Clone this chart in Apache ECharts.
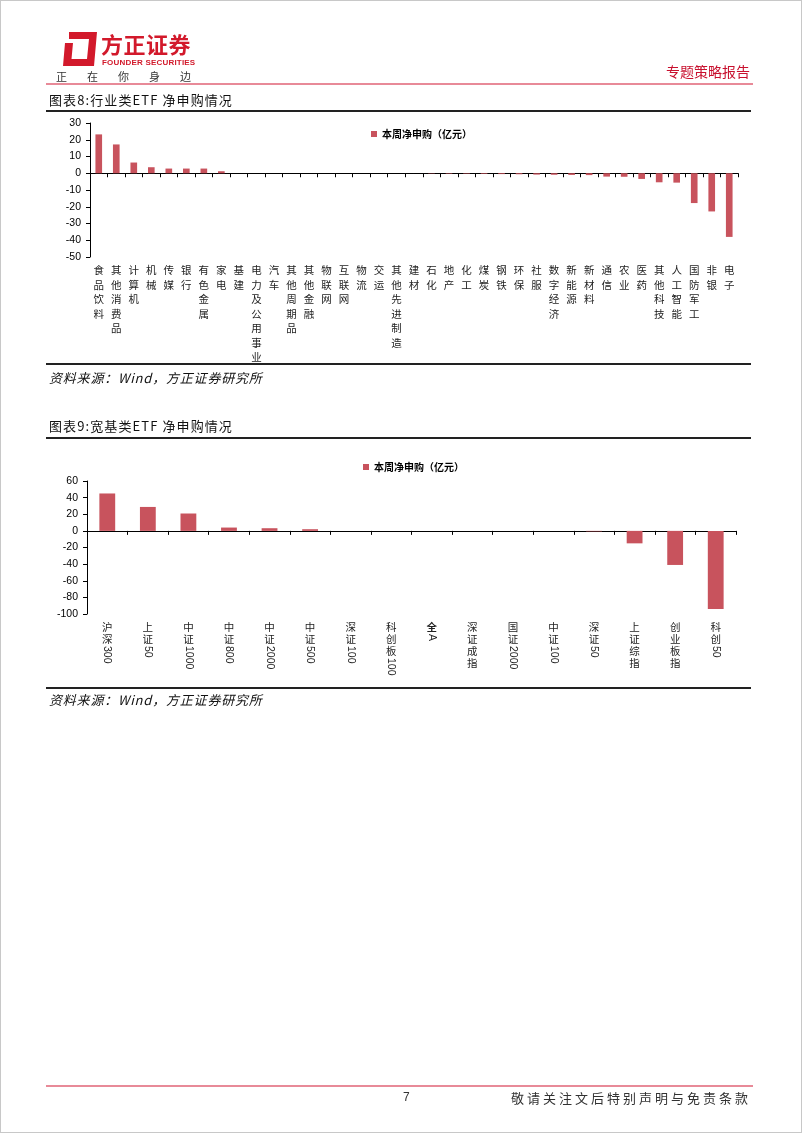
<!DOCTYPE html>
<html>
<head>
<meta charset="utf-8">
<script src="https://cdn.jsdelivr.net/npm/echarts@6/dist/echarts.min.js"></script>
<style>
  html, body { margin: 0; padding: 0; background: #fff; }
  #page { position: relative; width: 802px; height: 1133px; overflow: hidden; background: #fff; box-sizing: border-box; border: 1px solid #c8c8c8; }
  #chart { position: absolute; left: 0; top: 0; width: 802px; height: 1133px; z-index: 1; }
  .t { position: absolute; z-index: 2; white-space: nowrap; font-family: "Noto Sans CJK SC", sans-serif; line-height: 1; }
  .ln { position: absolute; z-index: 2; }
</style>
</head>
<body>
<div id="page">
  <div id="chart"></div>
  <svg class="ln" style="left:60px;top:30px" width="38" height="36" viewBox="0 0 38 36">
    <path d="M8 1 L36 1 L33 35 L2 35 L4 12 L12 12 L10.5 28 L26 28 L28 8 L8 8 Z" fill="#D2192B"/>
  </svg>
  <div class="t" style="left:100px;top:31px;font-size:22px;font-weight:bold;color:#D2192B;letter-spacing:0.5px">方正证券</div>
  <div class="t" style="left:101px;top:58px;font-size:8px;font-weight:bold;color:#D2192B;font-family:'Liberation Sans',Arial,sans-serif;letter-spacing:0.2px">FOUNDER SECURITIES</div>
  <div class="t" style="left:55px;top:70px;font-size:11px;color:#333;letter-spacing:20px">正在你身边</div>
  <div class="t" style="left:665px;top:63px;font-size:14px;color:#C8102E">专题策略报告</div>
  <div class="ln" style="left:45px;top:82px;width:707px;height:1.5px;background:#E88A98"></div>

  <div class="t" style="left:48px;top:92px;font-size:13px;color:#111;letter-spacing:1.1px">图表8:行业类ETF 净申购情况</div>
  <div class="ln" style="left:45px;top:109px;width:705px;height:2px;background:#222"></div>
  <div class="ln" style="left:45px;top:362px;width:705px;height:2px;background:#222"></div>
  <div class="t" style="left:48px;top:370px;font-size:13px;color:#111;font-style:italic;letter-spacing:0.8px">资料来源：Wind，方正证券研究所</div>

  <div class="t" style="left:48px;top:418px;font-size:13px;color:#111;letter-spacing:1.1px">图表9:宽基类ETF 净申购情况</div>
  <div class="ln" style="left:45px;top:436px;width:705px;height:2px;background:#222"></div>
  <div class="ln" style="left:45px;top:686px;width:705px;height:2px;background:#222"></div>
  <div class="t" style="left:48px;top:692px;font-size:13px;color:#111;font-style:italic;letter-spacing:0.8px">资料来源：Wind，方正证券研究所</div>

  <div class="ln" style="left:45px;top:1084px;width:707px;height:1.5px;background:#E88A98"></div>
  <div class="t" style="left:402px;top:1090px;font-size:12px;color:#333;font-family:'Liberation Sans',Arial,sans-serif">7</div>
  <div class="t" style="left:510px;top:1090px;font-size:13px;color:#333;letter-spacing:3px">敬请关注文后特别声明与免责条款</div>
</div>
<script>
// ---------- data ----------
const categories1 = ['食品饮料','其他消费品','计算机','机械','传媒','银行','有色金属','家电','基建','电力及公用事业','汽车','其他周期品','其他金融','物联网','互联网','物流','交运','其他先进制造','建材','石化','地产','化工','煤炭','钢铁','环保','社服','数字经济','新能源','新材料','通信','农业','医药','其他科技','人工智能','国防军工','非银','电子'];
const values1 = [23.2, 17.2, 6.4, 3.6, 2.8, 2.8, 2.8, 1.2, 0, 0, 0, 0, 0, 0, 0, 0, 0, 0, 0, -0.2, -0.3, -0.3, -0.4, -0.5, -0.6, -0.8, -0.9, -1.0, -1.1, -2.0, -2.1, -3.4, -5.4, -5.6, -17.8, -22.8, -38.0];
const yTicks1 = { min: -50, max: 30, interval: 10 };

const categories2 = ['沪深300','上证50','中证1000','中证800','中证2000','中证500','深证100','科创板100','全A','深证成指','国证2000','中证100','深证50','上证综指','创业板指','科创50'];
const values2 = [45, 28.8, 20.9, 4.0, 3.2, 2.0, 0, 0, 0, 0, 0, 0, -0.6, -15, -41, -94];
const yTicks2 = { min: -100, max: 60, interval: 20 };

const seriesName = '本周净申购（亿元）';

// ---------- styles ----------
const BAR = '#C8535D';
const axisBlack = { lineStyle: { color: '#000', width: 1 } };
const yLabel = { fontSize: 10.5, color: '#000', fontFamily: 'Liberation Sans', margin: 9 };

const chart = echarts.init(document.getElementById('chart'), null, { renderer: 'canvas' });

function labelRenderer(params, api) {
  const idx = api.value(0);
  const p = api.coord([idx, yTicks2.min]);
  const label = categories2[idx];
  const parts = label.match(/[0-9A-Za-z]+|[^0-9A-Za-z]/g) || [];
  let y = p[1] + 8;
  const children = [];
  parts.forEach(s => {
    if (/^[0-9A-Za-z]+$/.test(s)) {
      children.push({
        type: 'text', x: p[0], y: y, rotation: -Math.PI / 2,
        style: { text: s, align: 'left', verticalAlign: 'middle', font: '10.5px "Liberation Sans"', fill: '#222' }
      });
      y += s.length * 5.9 + 1;
    } else {
      children.push({
        type: 'text', x: p[0], y: y,
        style: { text: s, align: 'center', verticalAlign: 'top', font: (label === '全A' ? 'bold ' : '') + '10.5px "Noto Sans CJK SC"', fill: '#222' }
      });
      y += 12;
    }
  });
  return { type: 'group', children };
}

chart.setOption({
  animation: false,
  legend: [
    { data: [seriesName], left: 365, top: 123, icon: 'rect', itemWidth: 6, itemHeight: 6, itemGap: 4,
      textStyle: { fontSize: 10, fontWeight: 'bold', color: '#000', fontFamily: 'Noto Sans CJK SC' }, selectedMode: false },
    { data: [seriesName], left: 357, top: 456, icon: 'rect', itemWidth: 6, itemHeight: 6, itemGap: 4,
      textStyle: { fontSize: 10, fontWeight: 'bold', color: '#000', fontFamily: 'Noto Sans CJK SC' }, selectedMode: false }
  ],
  grid: [
    { left: 89, top: 122, width: 648, height: 134, containLabel: false },
    { left: 86, top: 480, width: 649, height: 133, containLabel: false }
  ],
  xAxis: [
    { type: 'category', gridIndex: 0, data: categories1, position: 'bottom',
      axisLine: Object.assign({ onZero: true }, axisBlack),
      axisTick: { show: true, length: 4, interval: 0, lineStyle: { color: '#000' } },
      axisLabel: { show: false } },
    { type: 'category', gridIndex: 0, data: categories1, position: 'bottom',
      axisLine: { show: false, onZero: false }, axisTick: { show: false },
      axisLabel: { interval: 0, margin: 6, fontSize: 10.5, lineHeight: 14.5, color: '#222', fontFamily: 'Noto Sans CJK SC',
        formatter: v => v.split('').join('\n') } },
    { type: 'category', gridIndex: 1, data: categories2, position: 'bottom',
      axisLine: Object.assign({ onZero: true }, axisBlack),
      axisTick: { show: true, length: 4, interval: 0, lineStyle: { color: '#000' } },
      axisLabel: { show: false } }
  ],
  yAxis: [
    { type: 'value', gridIndex: 0, min: yTicks1.min, max: yTicks1.max, interval: yTicks1.interval,
      axisLine: Object.assign({ show: true }, axisBlack), axisTick: { show: true, length: 4, lineStyle: { color: '#000' } },
      splitLine: { show: false }, axisLabel: yLabel },
    { type: 'value', gridIndex: 1, min: yTicks2.min, max: yTicks2.max, interval: yTicks2.interval,
      axisLine: Object.assign({ show: true }, axisBlack), axisTick: { show: true, length: 4, lineStyle: { color: '#000' } },
      splitLine: { show: false }, axisLabel: yLabel }
  ],
  series: [
    { name: seriesName, type: 'bar', xAxisIndex: 0, yAxisIndex: 0, data: values1, barWidth: '38%',
      itemStyle: { color: BAR }, z: 1 },
    { name: seriesName, type: 'bar', xAxisIndex: 2, yAxisIndex: 1, data: values2, barWidth: '39%',
      itemStyle: { color: BAR }, z: 1 },
    { name: 'labels2', type: 'custom', xAxisIndex: 2, yAxisIndex: 1, silent: true, clip: false,
      data: categories2.map((c, i) => [i, yTicks2.min]), renderItem: labelRenderer, z: 3 }
  ]
});
</script>
</body>
</html>
